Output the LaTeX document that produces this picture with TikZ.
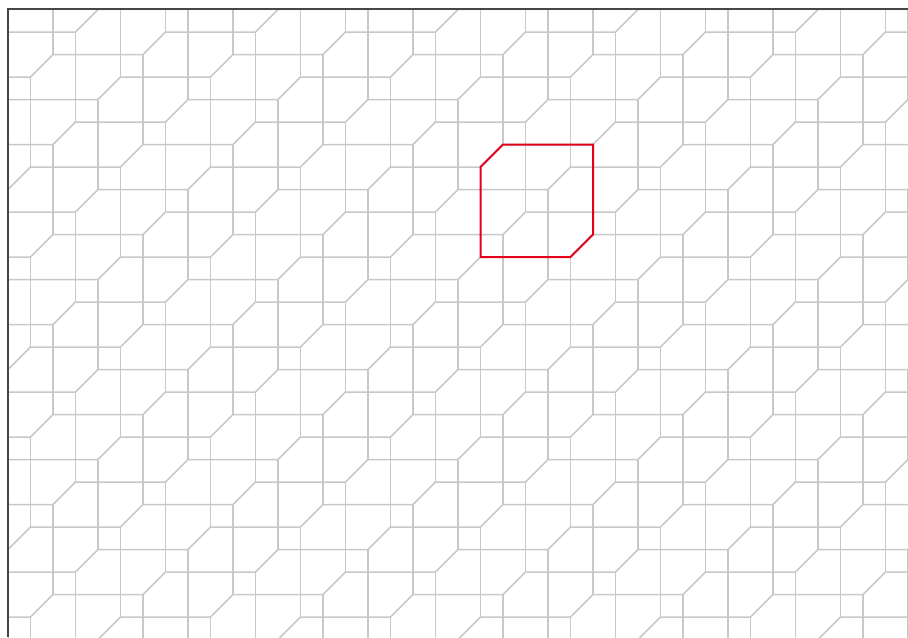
\documentclass[tikz,border=0pt]{standalone}
\definecolor{tilegray}{RGB}{200,200,200}
\definecolor{hexred}{RGB}{226,0,26}
\definecolor{framegray}{RGB}{70,70,70}
\tikzset{
  tileline/.style={draw=tilegray, line width=0.75pt, line join=miter},
  redhex/.style={draw=hexred, line width=1pt, line join=miter},
  frameline/.style={draw=framegray, line width=0.6pt}
}
\begin{document}
\begin{tikzpicture}[x=11.25pt, y=-11.25pt]
  % page: 908 x 637 px, grid unit 22.5 px, origin at px (8,9.5)
  \useasboundingbox (-0.35556,-0.42222) rectangle (40,27.88889);
  \begin{scope}
    \clip (0,0) rectangle (40,27.88889);
    \foreach \a in {-7,...,17} {
      \foreach \b in {-8,...,13} {
        \draw[tileline] ({3*\a+\b},{\a+3*\b}) -- ++(1,-1) -- ++(4,0);
        \draw[tileline] ({3*\a+\b},{\a+3*\b}) -- ++(0,4);
      }
    }
  \end{scope}
  \draw[redhex] (21,7) -- (22,6) -- (26,6) -- (26,10) -- (25,11) -- (21,11) -- cycle;
  \draw[frameline] (0,27.88889) -- (0,-0.02) -- (40,-0.02);
\end{tikzpicture}
\end{document}
